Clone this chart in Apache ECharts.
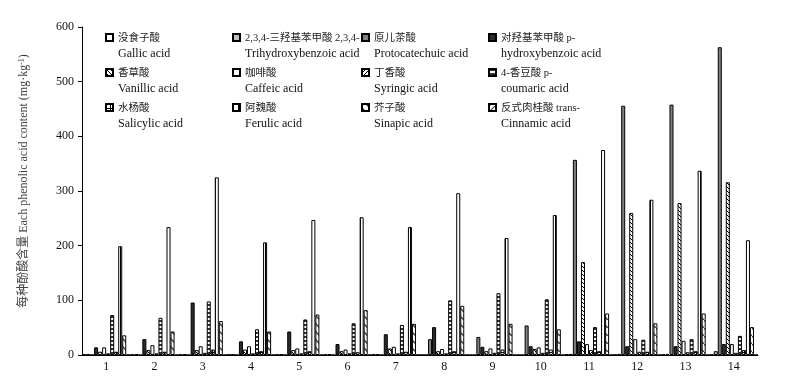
<!DOCTYPE html>
<html><head><meta charset="utf-8">
<script src="https://cdn.jsdelivr.net/npm/echarts@6/dist/echarts.min.js"></script>
<style>html,body{margin:0;padding:0;background:#fff}#c{width:785px;height:380px}</style>
</head><body><div id="c"></div>
<script>
// ---- data ----
const categories = ['1','2','3','4','5','6','7','8','9','10','11','12','13','14'];
const seriesCn = ['没食子酸','2,3,4-三羟基苯甲酸 2,3,4-','原儿茶酸','对羟基苯甲酸 p-','香草酸','咖啡酸','丁香酸','4-香豆酸 p-','水杨酸','阿魏酸','芥子酸','反式肉桂酸 trans-'];
const seriesEn = ['Gallic acid','Trihydroxybenzoic acid','Protocatechuic acid','hydroxybenzoic acid','Vanillic acid','Caffeic acid','Syringic acid','coumaric acid','Salicylic acid','Ferulic acid','Sinapic acid','Cinnamic acid'];
const gallic        = [0.8,0.8,0.8,1,0.8,0.8,1,0,0,0,1,0.5,1,0.5];
const trihydroxy    = [1.5,1.5,1.5,1.5,1.5,1.5,1.5,0,0,0,2,2,2,7];
const protocatechuic= [0,0,0,0,0,0,0,29,33,54,357,456,458,563];
const pHydroxy      = [14,29,96,25,43,20,38,51,15,16,25,16,16,20];
const vanillic      = [6,9,9,10,9,7,12,7,7,11,170,260,278,316];
const caffeic       = [14,18,16,16,12,10,15,11,12,14,20,29,26,20];
const syringic      = [3,3,4,3,3,3,3,3,4,4,9,6,5,4];
const pCoumaric     = [73,68,98,47,65,58,55,100,113,102,51,28,29,35];
const salicylic     = [6,6,10,7,7,5,6,7,10,10,7,6,7,9];
const ferulic       = [199,234,325,206,247,252,234,296,214,256,375,284,337,210];
const sinapic       = [36,43,62,43,74,82,57,90,57,47,76,58,76,51];
const cinnamic      = [0,0,0,0,0,0,0,0,0,0,0,0,0,0];
const yTicks = [0,100,200,300,400,500,600];
const allValues = [gallic,trihydroxy,protocatechuic,pHydroxy,vanillic,caffeic,syringic,pCoumaric,salicylic,ferulic,sinapic,cinnamic];

// ---- patterns ----
function pat(w,h,draw){const c=document.createElement('canvas');c.width=w;c.height=h;const x=c.getContext('2d');x.fillStyle='#fff';x.fillRect(0,0,w,h);draw(x);return {image:c,repeat:'repeat'};}
const fills = [
  '#ffffff',
  '#c0c0c0',
  '#808080',
  '#2b2b2b',
  pat(4,4,x=>{x.fillStyle='#000';for(let i=0;i<4;i++)x.fillRect(i,i,1,1);}),
  '#ffffff',
  pat(4,4,x=>{x.fillStyle='#000';for(let i=0;i<4;i++)x.fillRect(3-i,i,1,1);}),
  pat(1,4,x=>{x.fillStyle='#333';x.fillRect(0,0,1,2);}),
  pat(4,4,x=>{x.fillStyle='#000';x.fillRect(0,0,4,1);x.fillRect(0,0,1,4);}),
  pat(5,1,x=>{x.fillStyle='#000';x.fillRect(0,0,1,1);}),
  pat(8,8,x=>{x.strokeStyle='#444';x.lineWidth=1.5;x.beginPath();x.moveTo(-1,-1);x.lineTo(9,9);x.stroke();}),
  pat(6,6,x=>{x.strokeStyle='#444';x.lineWidth=1.2;x.beginPath();x.moveTo(-1,7);x.lineTo(7,-1);x.stroke();})
];

const font = '"Liberation Serif","Times New Roman","Noto Sans CJK SC",serif';
const labelMap = {};
seriesCn.forEach((n,i)=>{labelMap[n]='{cn|'+n+'}\n{en|'+seriesEn[i]+'}';});

const series = seriesCn.map((n,i)=>({
  name:n, type:'bar', data:allValues[i], barGap:'0%', barCategoryGap:'0%',
  itemStyle:{color:fills[i], borderColor:'#000', borderWidth:1},
  emphasis:{disabled:true}
}));

const colX = [105,232,361,488];
const legends = colX.map((lx,c)=>({
  orient:'vertical', left:lx, top:29, padding:0, itemGap:1,
  itemWidth:7, itemHeight:32, icon:'path://M0,0M0,4L7,4L7,11L0,11ZM0,32',
  selectedMode:false,
  data:[seriesCn[c],seriesCn[c+4],seriesCn[c+8]],
  formatter:n=>labelMap[n],
  textStyle:{fontFamily:font,fontSize:12,lineHeight:16,color:'#111',
    rich:{cn:{fontFamily:font,fontSize:10.5,lineHeight:16,color:'#222'},
          en:{fontFamily:font,fontSize:12,lineHeight:16,color:'#111'}}}
}));

const chart = echarts.init(document.getElementById('c'),null,{renderer:'canvas'});
chart.setOption({
  animation:false,
  backgroundColor:'#fff',
  legend:legends,
  grid:{left:82,right:27,top:27,bottom:25,containLabel:false},
  xAxis:{type:'category',data:categories,
    axisLine:{lineStyle:{color:'#000',width:1}},
    axisTick:{inside:true,length:4,interval:0,lineStyle:{color:'#000'}},
    axisLabel:{fontFamily:font,fontSize:12,color:'#111',margin:6}},
  yAxis:{type:'value',min:yTicks[0],max:yTicks[yTicks.length-1],interval:100,
    splitLine:{show:false},
    axisLine:{show:true,lineStyle:{color:'#000',width:1}},
    axisTick:{show:true,length:4,lineStyle:{color:'#000'}},
    axisLabel:{fontFamily:font,fontSize:12,color:'#111',margin:8},
    name:'每种酚酸含量 Each phenolic acid content (mg·kg{sup|-1})',
    nameLocation:'middle',nameRotate:90,nameGap:52,
    nameTextStyle:{fontFamily:font,fontSize:12,color:'#444',padding:[0,0,0,20],
      rich:{sup:{fontFamily:font,fontSize:8,color:'#444',verticalAlign:'top'}}}},
  series:series
});
</script></body></html>
